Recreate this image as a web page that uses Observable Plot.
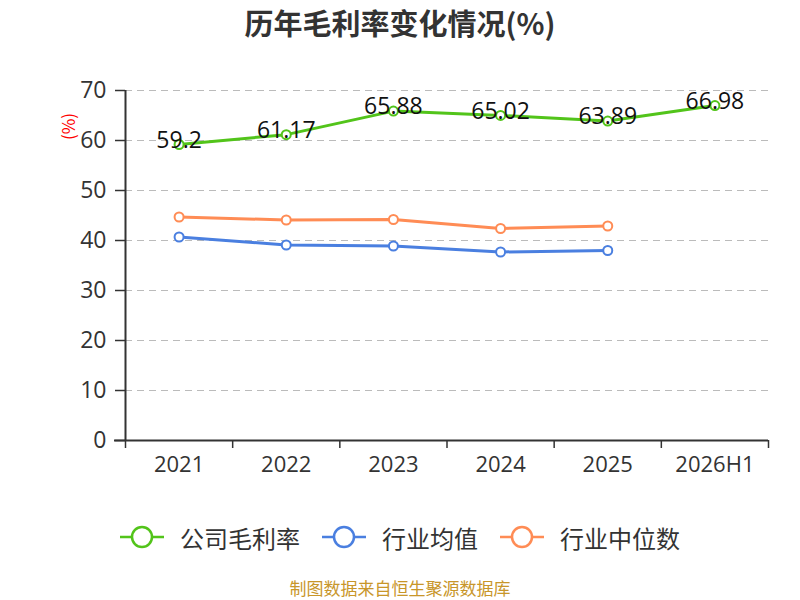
<!DOCTYPE html>
<html>
<head>
<meta charset="utf-8">
<script src="https://cdn.jsdelivr.net/npm/d3@7"></script>
<script src="https://cdn.jsdelivr.net/npm/@observablehq/plot@0.6"></script>
<style>
  html, body { margin: 0; padding: 0; background: #fff; }
  body { width: 800px; height: 600px; position: relative; overflow: hidden;
         font-family: "Noto Sans CJK SC", "Noto Sans", sans-serif; }
  #title { position: absolute; top: 0; left: 0; width: 800px; height: 44px; line-height: 44px;
           text-align: center; font-size: 29px; font-weight: bold; color: #333; }
  #chart { position: absolute; top: 60px; left: 0; }
  #legend { position: absolute; top: 518px; left: 0; width: 800px; height: 38px;
            display: flex; justify-content: center; align-items: center; gap: 22px;
            font-size: 24px; color: #333; }
  .item { display: flex; align-items: center; gap: 16px; }
  #caption { position: absolute; top: 577px; left: 0; width: 800px; text-align: center;
             font-size: 17px; color: #c8962a; line-height: 22px; }
</style>
</head>
<body>
<div id="title">历年毛利率变化情况(%)</div>
<div id="chart"></div>
<div id="legend"></div>
<div id="caption">制图数据来自恒生聚源数据库</div>
<script>
const categories = ["2021", "2022", "2023", "2024", "2025", "2026H1"];
const companyMargin = [59.2, 61.17, 65.88, 65.02, 63.89, 66.98];
const industryMean = [40.7, 39.1, 38.9, 37.7, 38.0];
const industryMedian = [44.7, 44.1, 44.2, 42.4, 42.9];
const yTicks = [0, 10, 20, 30, 40, 50, 60, 70];
const seriesNames = ["公司毛利率", "行业均值", "行业中位数"];
const seriesColors = ["#52c41a", "#4a7fe0", "#ff8c55"];

const rows = [];
[companyMargin, industryMean, industryMedian].forEach((vals, s) => {
  vals.forEach((v, i) => rows.push({i, v, s: seriesNames[s]}));
});
const companyRows = rows.filter(d => d.s === seriesNames[0]);
const boundaries = d3.range(categories.length + 1).map(k => k - 0.5);
const numFont = "'Open Sans', 'Noto Sans', sans-serif";

const chart = Plot.plot({
  width: 800,
  height: 420,
  marginTop: 30,
  marginBottom: 40,
  marginLeft: 125,
  marginRight: 32,
  style: {fontFamily: "'Noto Sans CJK SC', 'Noto Sans', sans-serif", background: "transparent"},
  x: {type: "linear", domain: [-0.5, categories.length - 0.5]},
  y: {domain: [0, 70]},
  color: {domain: seriesNames, range: seriesColors},
  marks: [
    Plot.gridY(yTicks.filter(t => t > 0), {stroke: "#bbb", strokeOpacity: 1, strokeDasharray: "7,5", strokeWidth: 1.2}),
    Plot.axisY({ticks: yTicks, tickSize: 10, tickPadding: 9, fontSize: 23, fontFamily: numFont, fill: "#333", stroke: "#333", strokeWidth: 1.5, label: null}),
    Plot.ruleX([-0.5], {stroke: "#333", strokeWidth: 2}),
    Plot.axisX({ticks: boundaries, tickFormat: () => "", tickSize: 8, stroke: "#333", strokeWidth: 1.5, label: null}),
    Plot.axisX({ticks: d3.range(categories.length), tickFormat: i => categories[i], tickSize: 0, tickPadding: 16, fontSize: 22, fontFamily: numFont, fill: "#333", label: null}),
    Plot.ruleY([0], {stroke: "#333", strokeWidth: 2, insetLeft: -11}),
    Plot.line(rows, {x: "i", y: "v", z: "s", stroke: "s", strokeWidth: 3}),
    Plot.dot(rows, {x: "i", y: "v", stroke: "s", fill: "white", r: 4.5, strokeWidth: 2}),
    Plot.text(companyRows, {x: "i", y: "v", text: d => String(d.v), fontSize: 23, fontFamily: numFont, fill: "#111", dy: -4}),
    Plot.text(["(%)"], {frameAnchor: "top-left", dx: -63, dy: 36, rotate: -90, fill: "red", fontSize: 17, textAnchor: "middle"})
  ]
});
document.getElementById("chart").appendChild(chart);

const legend = document.getElementById("legend");
seriesNames.forEach((name, k) => {
  const item = document.createElement("div");
  item.className = "item";
  item.innerHTML = `<svg width="44" height="24"><line x1="0" y1="12" x2="44" y2="12" stroke="${seriesColors[k]}" stroke-width="2.5"/><circle cx="22" cy="12" r="10" fill="white" stroke="${seriesColors[k]}" stroke-width="2.5"/></svg><span>${name}</span>`;
  legend.appendChild(item);
});
</script>
</body>
</html>
